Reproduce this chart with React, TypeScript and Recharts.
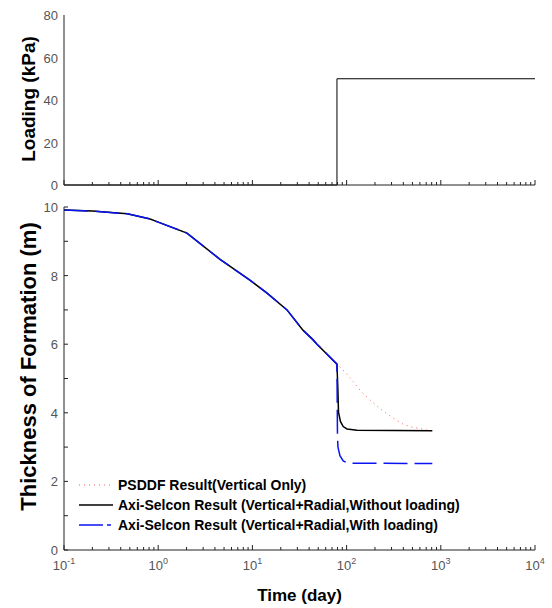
import React from 'react';
import { LineChart, Line, XAxis, YAxis, Legend } from 'recharts';

// time axis (day), log scale
const MAJOR_T = [0.1, 1, 10, 100, 1000, 10000];
const MINOR_MULT = [2, 3, 4, 5, 6, 7, 8, 9];
const T_TICKS = [
  ...MAJOR_T,
  ...MAJOR_T.slice(0, -1).flatMap((d) => MINOR_MULT.map((m) => +(d * m).toPrecision(3))),
].sort((a, b) => a - b);
const T_EXP = ['-1', '0', '1', '2', '3', '4'];

// loading history
const LOAD_T = [0.1, 79, 79, 10000];
const LOAD_KPA = [0, 0, 50, 50];
const LOAD_TICKS = [0, 20, 40, 60, 80];

// common consolidation curve before loading
const PRE_T = [0.1, 0.2, 0.47, 0.82, 1, 2.02, 4.5, 9.4, 14.3, 23.3, 34.4, 43.6, 48.5, 79];
const PRE_H = [9.91, 9.88, 9.8, 9.65, 9.56, 9.24, 8.48, 7.87, 7.49, 7.0, 6.41, 6.14, 6.0, 5.42];

// PSDDF (vertical only)
const PSDDF_T = [101, 145, 178, 215, 268, 325, 396, 478, 575, 708, 813];
const PSDDF_H = [5.13, 4.6, 4.37, 4.17, 3.97, 3.82, 3.67, 3.59, 3.55, 3.5, 3.48];

// Axi-Selcon without loading
const NOLOAD_T = [81, 82, 86, 92, 101, 129, 813];
const NOLOAD_H = [4.6, 4.02, 3.75, 3.6, 3.53, 3.49, 3.48];

// Axi-Selcon with loading
const WLOAD_T = [80, 81, 85, 92, 100, 114, 813];
const WLOAD_H = [3.3, 3.0, 2.75, 2.6, 2.55, 2.53, 2.52];

const H_TICKS = [0, 1, 2, 3, 4, 5, 6, 7, 8, 9, 10];

const toRows = (ts: number[], vs: number[]) => ts.map((t, i) => ({ t, v: vs[i] }));

const loadData = toRows(LOAD_T, LOAD_KPA);
const psddfData = toRows([...PRE_T, ...PSDDF_T], [...PRE_H, ...PSDDF_H]);
const noLoadData = toRows([...PRE_T, ...NOLOAD_T], [...PRE_H, ...NOLOAD_H]);
const wLoadData = toRows([...PRE_T, ...WLOAD_T], [...PRE_H, ...WLOAD_H]);

const SERIES = [
  { name: 'PSDDF Result(Vertical Only)', color: '#ff5a5a', dash: '1 4', width: 1 },
  { name: 'Axi-Selcon Result (Vertical+Radial,Without loading)', color: '#000000', dash: undefined, width: 1.5 },
  { name: 'Axi-Selcon Result (Vertical+Radial,With loading)', color: '#0a14f0', dash: '24 7', width: 1.5 },
];

const FONT = 'Arial, "Liberation Sans", sans-serif';
const FRAME = '#222';
const TICK_TEXT = '#555';

const XTick = (p: any) => {
  const { x, y, payload, side, showLabel } = p;
  const v = payload.value;
  const idx = MAJOR_T.indexOf(v);
  const len = idx >= 0 ? 5 : 3;
  const dir = side === 'bottom' ? -1 : 1;
  return (
    <g>
      <line x1={x} x2={x} y1={y} y2={y + dir * len} stroke={FRAME} />
      {showLabel && idx >= 0 && (
        <text x={x} y={y + 20} textAnchor="middle" fill={TICK_TEXT} fontSize={13} fontFamily={FONT}>
          <tspan>10</tspan>
          <tspan dy={-6} fontSize={9}>{T_EXP[idx]}</tspan>
        </text>
      )}
    </g>
  );
};

const YTick = (p: any) => {
  const { x, y, payload, side, len, labelEvery } = p;
  const v = payload.value;
  const dir = side === 'left' ? 1 : -1;
  return (
    <g>
      {len > 0 && <line x1={x} x2={x + dir * len} y1={y} y2={y} stroke={FRAME} />}
      {side === 'left' && v % labelEvery === 0 && (
        <text x={x - 6} y={y + 5} textAnchor="end" fill={TICK_TEXT} fontSize={13} fontFamily={FONT}>
          {v}
        </text>
      )}
    </g>
  );
};

const yTitle = (text: string, size: number, shift: number) => (p: any) => {
  const vb = p.viewBox;
  const cx = vb.x + 28;
  const cy = vb.y + vb.height / 2 + shift;
  return (
    <text
      x={cx}
      y={cy}
      transform={`rotate(-90 ${cx} ${cy})`}
      textAnchor="middle"
      dominantBaseline="central"
      fontSize={size}
      fontWeight="bold"
      fontFamily={FONT}
      fill="#000"
    >
      {text}
    </text>
  );
};

const xTitle = (p: any) => {
  const vb = p.viewBox;
  return (
    <text
      x={vb.x + vb.width / 2}
      y={vb.y + 51}
      textAnchor="middle"
      fontSize={17}
      fontWeight="bold"
      fontFamily={FONT}
      fill="#000"
    >
      Time (day)
    </text>
  );
};

const LegendBox = () => (
  <div style={{ fontFamily: FONT, fontWeight: 'bold', fontSize: 14, color: '#000' }}>
    {SERIES.map((s) => (
      <div key={s.name} style={{ display: 'flex', alignItems: 'center', height: 20, whiteSpace: 'nowrap' }}>
        <svg width={39} height={20}>
          <line
            x1={0}
            x2={34}
            y1={10}
            y2={10}
            stroke={s.color}
            strokeWidth={s.width}
            strokeDasharray={s.dash === '24 7' ? '24 4 4 20' : s.dash}
          />
        </svg>
        <span>{s.name}</span>
      </div>
    ))}
  </div>
);

const timeAxes = (showLabel: boolean, bottomHeight: number, withTitle: boolean) => [
  <XAxis
    key="xb"
    xAxisId="b"
    dataKey="t"
    type="number"
    scale="log"
    domain={[0.1, 10000]}
    ticks={T_TICKS}
    interval={0}
    allowDataOverflow
    height={bottomHeight}
    tickSize={0}
    tickMargin={0}
    tickLine={false}
    axisLine={{ stroke: FRAME }}
    tick={(p: any) => <XTick {...p} side="bottom" showLabel={showLabel} />}
    label={withTitle ? { content: xTitle } : undefined}
  />,
  <XAxis
    key="xt"
    xAxisId="t"
    orientation="top"
    dataKey="t"
    type="number"
    scale="log"
    domain={[0.1, 10000]}
    ticks={T_TICKS}
    interval={0}
    allowDataOverflow
    height={0}
    tickSize={0}
    tickMargin={0}
    tickLine={false}
    axisLine={{ stroke: FRAME }}
    tick={(p: any) => <XTick {...p} side="top" showLabel={false} />}
  />,
];

export default function App() {
  return (
    <div style={{ position: 'absolute', left: 0, top: 0, width: 552, height: 608, background: '#fff' }}>
      <LineChart width={552} height={200} margin={{ top: 15, right: 17, left: 0, bottom: 0 }}>
        {timeAxes(false, 15, false)}
        <YAxis
          yAxisId="l"
          type="number"
          domain={[0, 80]}
          ticks={LOAD_TICKS}
          interval={0}
          width={64}
          tickSize={0}
          tickMargin={0}
          tickLine={false}
          axisLine={{ stroke: FRAME }}
          tick={(p: any) => <YTick {...p} side="left" len={0} labelEvery={20} />}
          label={{ content: yTitle('Loading (kPa)', 19, -1) }}
        />
        <YAxis
          yAxisId="r"
          orientation="right"
          type="number"
          domain={[0, 80]}
          ticks={LOAD_TICKS}
          interval={0}
          width={0}
          tickSize={0}
          tickMargin={0}
          tickLine={false}
          axisLine={{ stroke: FRAME }}
          tick={(p: any) => <YTick {...p} side="right" len={4} labelEvery={20} />}
        />
        <Line
          data={loadData}
          xAxisId="b"
          yAxisId="l"
          dataKey="v"
          type="linear"
          stroke="#000"
          strokeWidth={1}
          dot={false}
          isAnimationActive={false}
        />
      </LineChart>
      <LineChart width={552} height={408} margin={{ top: 7, right: 17, left: 0, bottom: 0 }}>
        {timeAxes(true, 58, true)}
        <YAxis
          yAxisId="l"
          type="number"
          domain={[0, 10]}
          ticks={H_TICKS}
          interval={0}
          width={64}
          tickSize={0}
          tickMargin={0}
          tickLine={false}
          axisLine={{ stroke: FRAME }}
          tick={(p: any) => <YTick {...p} side="left" len={4} labelEvery={2} />}
          label={{ content: yTitle('Thickness of Formation (m)', 22, -12) }}
        />
        <YAxis
          yAxisId="r"
          orientation="right"
          type="number"
          domain={[0, 10]}
          ticks={H_TICKS}
          interval={0}
          width={0}
          tickSize={0}
          tickMargin={0}
          tickLine={false}
          axisLine={{ stroke: FRAME }}
          tick={(p: any) => <YTick {...p} side="right" len={4} labelEvery={2} />}
        />
        {[psddfData, noLoadData, wLoadData].map((d, i) => (
          <Line
            key={SERIES[i].name}
            name={SERIES[i].name}
            data={d}
            xAxisId="b"
            yAxisId="l"
            dataKey="v"
            type="linear"
            stroke={SERIES[i].color}
            strokeWidth={SERIES[i].width}
            strokeDasharray={SERIES[i].dash}
            dot={false}
            isAnimationActive={false}
          />
        ))}
        <Legend
          layout="vertical"
          align="center"
          verticalAlign="middle"
          content={<LegendBox />}
          wrapperStyle={{ position: 'absolute', left: 79, top: 275, width: 460 }}
        />
      </LineChart>
    </div>
  );
}
